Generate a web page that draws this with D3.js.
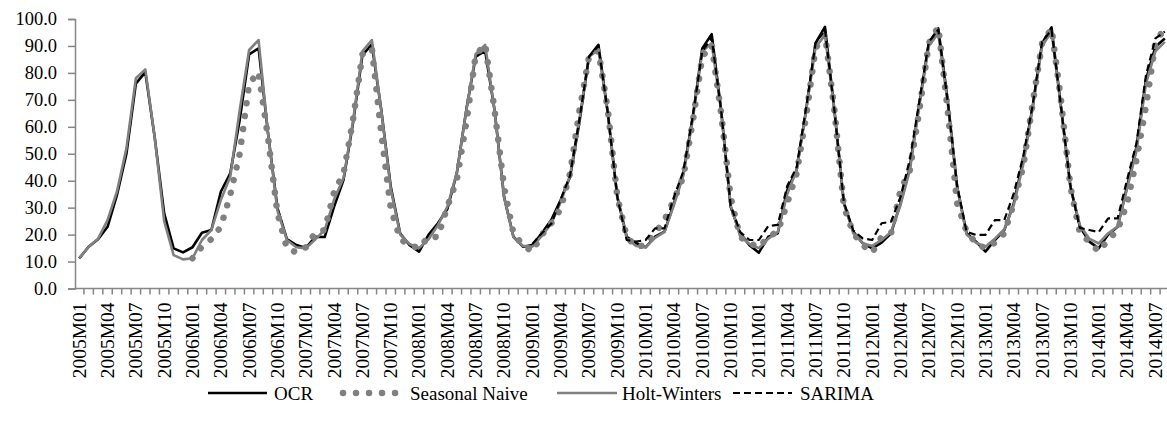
<!DOCTYPE html>
<html><head><meta charset="utf-8">
<script src="https://cdn.jsdelivr.net/npm/d3@7"></script>
<style>body{margin:0;background:#fff;} svg text{font-family:"Liberation Serif","Times New Roman",Times,"DejaVu Serif","Noto Serif",serif !important;}</style>
</head><body><svg id="c" width="1167" height="433"></svg>
<script>
const years = [2005,2006,2007,2008,2009,2010,2011,2012,2013,2014];
const months = [];
years.forEach(y => { for (let m = 1; m <= 12; m++) { if (y === 2014 && m > 8) break; months.push(y + "M" + (m < 10 ? "0" + m : m)); } });

const ocr = [11.2,15.5,18.3,22.9,34.7,50,76,80.3,56,27.9,14.9,13.4,
 15.3,20.7,21.7,35.9,42.7,62.5,86.9,89.1,57.6,29.8,18.3,16.1,
 15.0,19.2,19.1,30.4,40.3,61.3,86.6,90.6,66.2,37.8,20.4,16.1,
 13.7,19.9,24.2,29.5,42.8,66.2,86.0,88.2,66.2,34.1,19.2,15.5,
 16.1,20.5,25.4,32.8,41.5,62.0,86.0,90.4,65.0,34.0,19.2,16.8,
 15.3,19.2,21.1,31.6,42.7,63.8,89.1,94.4,66.2,30.4,20.5,16.1,
 13.3,19.2,20.5,36.5,44.0,66.2,91.0,97.1,66.2,31.6,21.1,16.8,
 14.9,17.0,20.5,31.6,45.2,68.7,91.0,96.5,69.9,37.8,20.5,17.4,
 13.7,18.0,21.7,31.6,47.7,67.5,91.0,96.9,67.5,37.8,22.9,17.4,
 14.9,20.0,22.9,37.8,52.6,77.4,89.7,92.8];

const seasonalNaive = [null,null,null,null,null,null,null,null,null,null,null,null,
 11.2,15.5,18.3,22.9,34.7,50,76,80.3,56,27.9,14.9,13.4,
 15.3,20.7,21.7,35.9,42.7,62.5,86.9,89.1,57.6,29.8,18.3,16.1,
 15.0,19.2,19.1,30.4,40.3,61.3,86.6,90.6,66.2,37.8,20.4,16.1,
 13.7,19.9,24.2,29.5,42.8,66.2,86.0,88.2,66.2,34.1,19.2,15.5,
 16.1,20.5,25.4,32.8,41.5,62.0,86.0,90.4,65.0,34.0,19.2,16.8,
 15.3,19.2,21.1,31.6,42.7,63.8,89.1,94.4,66.2,30.4,20.5,16.1,
 13.3,19.2,20.5,36.5,44.0,66.2,91.0,97.1,66.2,31.6,21.1,16.8,
 14.9,17.0,20.5,31.6,45.2,68.7,91.0,96.5,69.9,37.8,20.5,17.4,
 13.7,18.0,21.7,31.6,47.7,67.5,91.0,96.9];

const holtWinters = [11.2,15.5,18.5,25.4,36,52,78,81.3,56,25,12.4,10.8,
 11.2,18,21.7,32.8,41.5,66.2,88.5,92.2,57.6,28.9,18,15.3,
 14.9,18.2,21.7,33,41,62,88,92.2,66,37,20,16.5,
 15,18.3,23.5,30.4,43,66,87,90.4,66,34,19,15.8,
 15.5,19.5,24,32,42,63,86,88.5,65,34,18.5,15.8,
 15.3,18.8,21,31,42,63,88,91,66,31,19.5,16.5,
 15,18.5,21,35,44,66,89.5,94,66,32,20.5,16.8,
 15.8,18,21,31,44,68,90,94.7,69,37.5,20,17,
 15.5,18.5,22,31,46,67,90,95.3,67,37.5,23.5,18.5,
 16.7,20.5,23,37,51,76,88,91.5];

const sarima = [null,null,null,null,null,null,null,null,null,null,null,null,
 null,null,null,null,null,null,null,null,null,null,null,null,
 null,null,null,null,null,null,null,null,null,null,null,null,
 null,null,null,null,null,null,null,null,null,null,null,null,
 16.5,20.5,24,33,42,63,86,90,65,34,18,17.4,
 18,22.3,22.3,34,43.5,64,88,93,66,31,21,18,
 18,23.2,23.6,38,45,67,91,96,66,32,21.5,18.6,
 18,24.2,24.8,34,48,69.5,91.5,96,69.5,38,21,19.9,
 19.9,25.4,25.4,35.3,49,68,91.5,96,67.5,38,22.5,21.7,
 20.9,26,26,40.3,54,79,92.8,95.3];

const yTicks = [0,10,20,30,40,50,60,70,80,90,100];
const seriesNames = ["OCR","Seasonal Naive","Holt-Winters","SARIMA"];
const FONT = "'Liberation Serif','Times New Roman',Times,'DejaVu Serif','Noto Serif',serif";

const svg = d3.select("#c");
const x = d3.scaleBand().domain(months).range([74.5, 74.5 + months.length * 9.44]).paddingInner(0).paddingOuter(0);
const y = d3.scaleLinear().domain([0, 100]).range([288.5, 19]);
const cx = i => x(months[i]) + x.bandwidth() / 2;
const axisColor = "#868686";

// y axis
const yAxis = svg.append("g").attr("transform", "translate(75,0)")
  .call(d3.axisLeft(y).tickValues(yTicks).tickFormat(d3.format(".1f")).tickSize(7).tickPadding(11));
yAxis.attr("font-family", FONT);
yAxis.select(".domain").attr("stroke", axisColor).attr("stroke-width", 1.5);
yAxis.selectAll(".tick line").attr("stroke", axisColor).attr("stroke-width", 1.5);
yAxis.selectAll(".tick text").attr("font-size", 18.5).attr("fill", "#000").style("font-family", FONT);

// x axis
const xg = svg.append("g");
xg.append("line").attr("x1", 75).attr("x2", 1167).attr("y1", y(0)).attr("y2", y(0)).attr("stroke", axisColor).attr("stroke-width", 1.5);
const bounds = months.map(m => x(m)).concat([x(months[months.length - 1]) + x.bandwidth()]);
xg.selectAll("line.t").data(bounds.slice(1)).join("line").attr("class", "t")
  .attr("x1", d => d).attr("x2", d => d).attr("y1", y(0)).attr("y2", y(0) + 6)
  .attr("stroke", axisColor).attr("stroke-width", 1.5);
xg.selectAll("text").data(months.filter((m, i) => i % 3 === 0)).join("text")
  .attr("transform", d => `translate(${x(d) + x.bandwidth() / 2},${y(0) + 14}) rotate(-90)`)
  .attr("text-anchor", "end").attr("dy", "0.33em").attr("font-size", 19.5).attr("fill", "#000")
  .style("font-family", FONT)
  .text(d => d);

// lines
const line = d3.line().defined(d => d != null).x((d, i) => cx(i)).y(d => y(d));
const styles = [
  {data: ocr, stroke: "#000", width: 2.6, dash: null, cap: "butt"},
  {data: seasonalNaive, stroke: "#808080", width: 6.5, dash: "0.01 13", cap: "round"},
  {data: holtWinters, stroke: "#808080", width: 2.6, dash: null, cap: "butt"},
  {data: sarima, stroke: "#000", width: 2.2, dash: "7 4", cap: "butt"}
];
styles.forEach(s => {
  svg.append("path").datum(s.data).attr("d", line).attr("fill", "none")
    .attr("stroke", s.stroke).attr("stroke-width", s.width).attr("stroke-linecap", s.cap)
    .attr("stroke-linejoin", "round").attr("stroke-dasharray", s.dash);
});

// legend
const ly = 393;
const legendPos = [{x1: 208, x2: 267, tx: 274}, {x1: 343, x2: 398, tx: 410}, {x1: 557, x2: 617, tx: 622}, {x1: 733, x2: 792, tx: 800}];
seriesNames.forEach((n, k) => {
  const s = styles[k], p = legendPos[k];
  svg.append("line").attr("x1", p.x1).attr("x2", p.x2).attr("y1", ly).attr("y2", ly)
    .attr("stroke", s.stroke).attr("stroke-width", s.width).attr("stroke-linecap", s.cap)
    .attr("stroke-dasharray", s.dash);
  svg.append("text").attr("x", p.tx).attr("y", ly).attr("dy", "0.35em").attr("font-size", 19)
    .style("font-family", FONT).text(n);
});
</script></body></html>
